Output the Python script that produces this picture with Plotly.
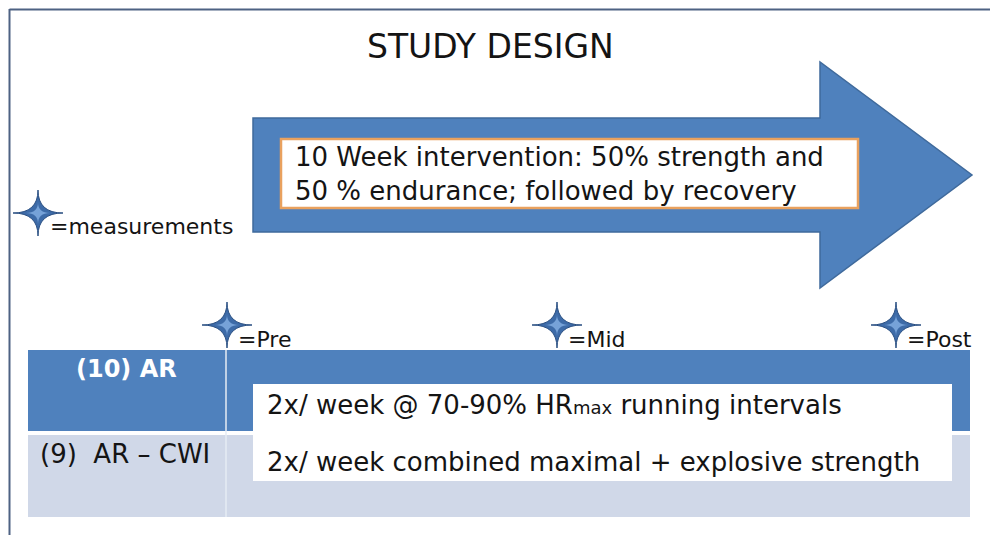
"""Study design diagram rebuilt with Plotly shapes and annotations."""

import plotly.graph_objects as go

# ---- content -------------------------------------------------------------
title = "STUDY DESIGN"
intervention_lines = [
    "10 Week intervention: 50% strength and",
    "50 % endurance; followed by recovery",
]
legend_label = "=measurements"
timepoints = ["Pre", "Mid", "Post"]
groups = ["(10) AR", "(9)\u00a0\u00a0AR \u2013 CWI"]
protocols = [
    "2x/ week @ 70-90% HR<span style='font-size:18px'>max</span> running intervals",
    "2x/ week combined maximal + explosive strength",
]

# ---- layout constants (pixels, y grows downward) -------------------------
W, H = 998, 535
OFF = 8  # page body margin, compensated in the axis ranges
BLUE = "#4F81BD"
BLUE_EDGE = "#3F6A9C"
STAR_MAIN = "#3D6BA8"
STAR_EDGE = "#2A4F82"
STAR_LIGHT = "#76A2D8"
LIGHT = "#D0D8E8"
INK = "#141414"
FONT = "'DejaVu Sans', sans-serif"
TIME_X = [227, 557, 896]
STAR_Y = 325


def star_path(cx, cy, rx=25, ry=23, k=0.0):
    return (
        f"M {cx},{cy - ry} Q {cx + k},{cy - k} {cx + rx},{cy} "
        f"Q {cx + k},{cy + k} {cx},{cy + ry} "
        f"Q {cx - k},{cy + k} {cx - rx},{cy} "
        f"Q {cx - k},{cy - k} {cx},{cy - ry} Z"
    )


def add_star(shapes, cx, cy):
    shapes.append(dict(type="path", path=star_path(cx, cy), fillcolor=STAR_MAIN,
                       line=dict(color=STAR_EDGE, width=1)))
    shapes.append(dict(type="path", path=star_path(cx, cy, 12, 11), fillcolor=STAR_LIGHT,
                       line=dict(width=0)))


def text(x, y, s, size, color=INK, anchor="left"):
    return dict(x=x, y=y, text=s, xanchor=anchor, yanchor="middle", align="left",
                showarrow=False, font=dict(family=FONT, size=size, color=color))


shapes = []
annotations = []

# outer frame
shapes.append(dict(type="line", x0=9.5, y0=9, x1=9.5, y1=H + OFF, line=dict(color="#4E6283", width=2)))
shapes.append(dict(type="line", x0=9.5, y0=9.5, x1=W + OFF, y1=9.5, line=dict(color="#4E6283", width=2)))

# big arrow with the intervention box
arrow = "M 253,118 L 820,118 L 820,62 L 972,175 L 820,288 L 820,232 L 253,232 Z"
shapes.append(dict(type="path", path=arrow, fillcolor=BLUE, line=dict(color=BLUE_EDGE, width=1.5)))
shapes.append(dict(type="rect", x0=281, y0=139, x1=858, y1=208, fillcolor="white",
                   line=dict(color="#E9A15E", width=2.5)))
annotations.append(text(293, 174, "<br>".join(intervention_lines), 26))

# title
annotations.append(text(490, 46, title, 33, anchor="center"))

# legend star
add_star(shapes, 38, 213)
annotations.append(text(48, 226, legend_label, 22))

# table rows
shapes.append(dict(type="rect", x0=28, y0=350, x1=970, y1=431, fillcolor=BLUE, line=dict(width=0)))
shapes.append(dict(type="rect", x0=28, y0=435, x1=970, y1=517, fillcolor=LIGHT, line=dict(width=0)))
shapes.append(dict(type="line", x0=226, y0=350, x1=226, y1=517, line=dict(color="#E6ECF4", width=1.5)))
shapes.append(dict(type="rect", x0=253, y0=384, x1=952, y1=481, fillcolor="white", line=dict(width=0)))

annotations.append(text(126, 369, "<b>" + groups[0] + "</b>", 24, color="white", anchor="center"))
annotations.append(text(38, 454, groups[1], 26))
for i, s in enumerate(protocols):
    annotations.append(text(265, 405 + 57 * i, s, 26))

# timepoint stars
for x, lab in zip(TIME_X, timepoints):
    add_star(shapes, x, STAR_Y)
    annotations.append(text(x + 9, 339, "=" + lab, 22))

fig = go.Figure()
fig.update_layout(
    width=W,
    height=H,
    margin=dict(l=0, r=0, t=0, b=0),
    paper_bgcolor="white",
    plot_bgcolor="white",
    xaxis=dict(range=[OFF, W + OFF], visible=False, fixedrange=True),
    yaxis=dict(range=[H + OFF, OFF], visible=False, fixedrange=True),
    shapes=shapes,
    annotations=annotations,
    showlegend=False,
)
fig.write_html("out.html")
